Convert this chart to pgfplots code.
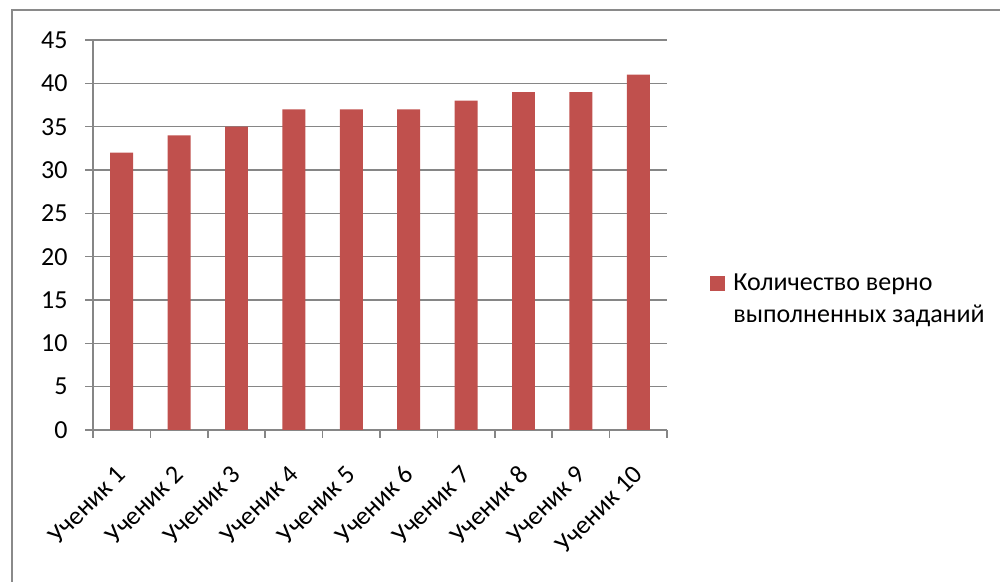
\documentclass[border=0pt]{standalone}
\usepackage{fontspec}
\setmainfont{Carlito}
\usepackage{pgfplots}
\pgfplotsset{compat=1.18}
\definecolor{barred}{HTML}{C0504D}
\definecolor{axisgray}{HTML}{868686}
\definecolor{framegray}{HTML}{8A8A8A}

\begin{document}
\begin{tikzpicture}[x=1pt,y=1pt,font=\fontsize{13}{16}\selectfont]
  % page area and the chart frame (top and left edges)
  \path[use as bounding box] (0,0) rectangle (500,291);
  \draw[framegray, line width=1pt] (5.75,0) -- (5.75,285.75) -- (500,285.75);
  \begin{axis}[
    at={(46.5pt,76pt)}, anchor=south west,
    scale only axis, width=287pt, height=195pt,
    ybar, bar width=0.4,
    xmin=0.5, xmax=10.5, ymin=0, ymax=45,
    axis x line*=bottom, axis y line*=left,
    axis line style={axisgray, line width=0.75pt, -},
    tick style={axisgray, line width=0.75pt},
    tick align=outside, major tick length=4pt,
    xtick={0.5,1.5,...,10.5},
    x tick label as interval,
    xticklabels={Ученик 1,Ученик 2,Ученик 3,Ученик 4,Ученик 5,Ученик 6,Ученик 7,Ученик 8,Ученик 9,Ученик 10},
    xticklabel style={rotate=45, anchor=east, inner sep=0pt},
    xticklabel shift=16pt,
    ytick={0,5,...,45},
    yticklabel style={anchor=east, inner sep=0pt},
    yticklabel shift=8.5pt,
    /pgf/number format/assume math mode=true,
    ymajorgrids,
    grid style={axisgray, line width=0.75pt},
    legend style={at={(axis description cs:1.0749,0.333)}, anchor=west,
      draw=none, fill=none, inner sep=0pt,
      nodes={inner sep=0pt, align=left}, column sep=4pt},
    legend cell align=left,
  ]
    \addplot[fill=barred, draw=none,
      legend image code/.code={\fill[barred] (0pt,4.5pt) rectangle (7.5pt,12pt);}]
      coordinates {(1,32) (2,34) (3,35) (4,37) (5,37) (6,37) (7,38) (8,39) (9,39) (10,41)};
    \addlegendentry{Количество верно\\выполненных заданий}
  \end{axis}
\end{tikzpicture}
\end{document}
